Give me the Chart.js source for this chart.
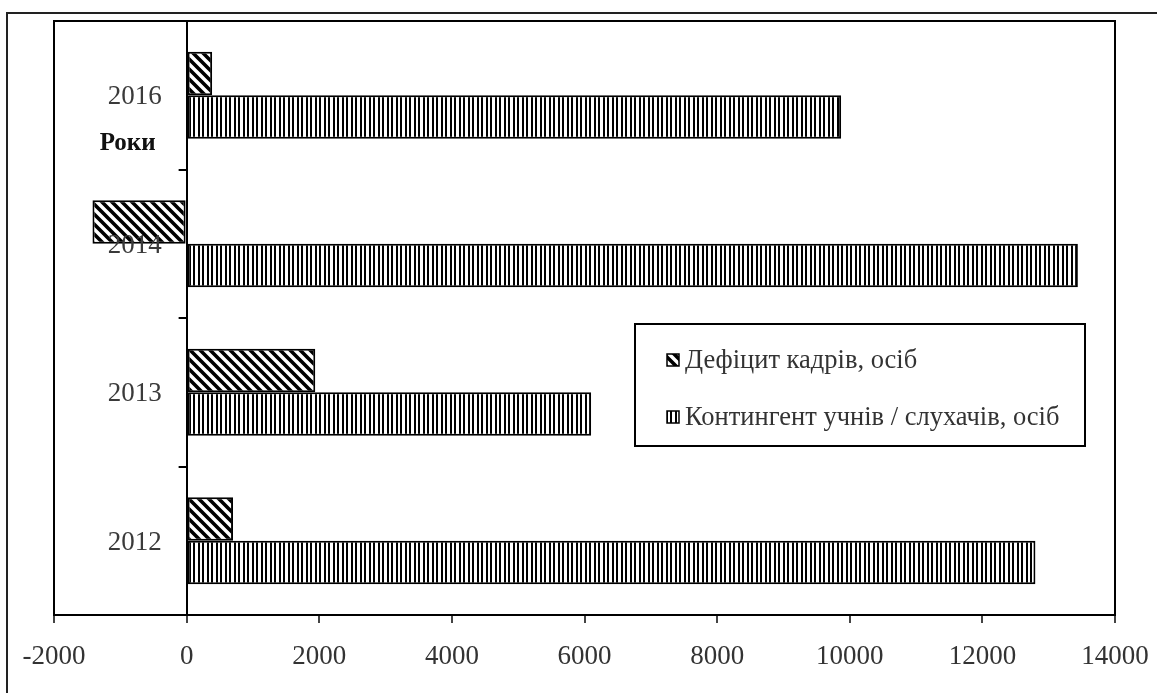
<!DOCTYPE html>
<html>
<head>
<meta charset="utf-8">
<script src="https://cdn.jsdelivr.net/npm/chart.js@4.4.1/dist/chart.umd.min.js"></script>
<style>
  html, body { margin: 0; padding: 0; background: #fff; }
  #wrap { width: 1157px; height: 693px; position: relative; }
</style>
</head>
<body>
<div id="wrap"><canvas id="c" width="1157" height="693"></canvas></div>
<script>
// Years shown from top to bottom
const years = ['2016', '2014', '2013', '2012'];
// Staff shortage, persons
const deficit = [385, -1420, 1940, 700];
// Number of pupils / trainees, persons
const contingent = [9870, 13440, 6100, 12800];
// Value axis
const xMin = -2000, xMax = 14000, xStep = 2000;
const seriesNames = ['Дефіцит кадрів, осіб', 'Контингент учнів / слухачів, осіб'];
const axisTitle = 'Роки';

const SERIF = "'Liberation Serif', 'Times New Roman', serif";

function diagonalPattern() {
  const s = 10;
  const c = document.createElement('canvas');
  c.width = s; c.height = s;
  const g = c.getContext('2d');
  g.fillStyle = '#fff';
  g.fillRect(0, 0, s, s);
  g.strokeStyle = '#000';
  g.lineWidth = 3.6;
  g.beginPath();
  g.moveTo(-s, -s); g.lineTo(2 * s, 2 * s);
  g.moveTo(-s, 0); g.lineTo(s, 2 * s);
  g.moveTo(0, -s); g.lineTo(2 * s, s);
  g.stroke();
  return g.createPattern(c, 'repeat');
}

function verticalPattern() {
  const c = document.createElement('canvas');
  c.width = 9; c.height = 9;
  const g = c.getContext('2d');
  g.fillStyle = '#fff';
  g.fillRect(0, 0, 9, 9);
  g.fillStyle = '#000';
  g.fillRect(0, 0, 2, 9);
  g.fillRect(4, 0, 2, 9);
  return g.createPattern(c, 'repeat');
}

const hatchDiag = diagonalPattern();
const hatchVert = verticalPattern();

// Frame, plot border, category labels, axis title and legend box
const decorations = {
  id: 'decorations',
  beforeDatasetsDraw(chart) {
    const { ctx, chartArea: a } = chart;
    ctx.save();
    ctx.strokeStyle = '#000';
    ctx.lineWidth = 2;
    ctx.beginPath();
    ctx.moveTo(a.left, a.bottom);
    ctx.lineTo(a.left, a.top);
    ctx.lineTo(a.right, a.top);
    ctx.lineTo(a.right, a.bottom);
    ctx.stroke();
    ctx.restore();
  },
  afterDraw(chart) {
    const { ctx, scales } = chart;
    const x0 = scales.x.getPixelForValue(0);
    const y = scales.y;
    ctx.save();

    // outer frame
    ctx.strokeStyle = '#222';
    ctx.lineWidth = 2;
    ctx.beginPath();
    ctx.moveTo(7, 700);
    ctx.lineTo(7, 13);
    ctx.lineTo(1170, 13);
    ctx.stroke();

    // category ticks on the zero line, between categories
    ctx.strokeStyle = '#000';
    ctx.lineWidth = 2;
    const band = (y.getPixelForValue(1) - y.getPixelForValue(0));
    ctx.beginPath();
    for (let i = 0; i < years.length - 1; i++) {
      const py = Math.round(y.getPixelForValue(i) + band / 2);
      ctx.moveTo(x0 - 8, py);
      ctx.lineTo(x0, py);
    }
    ctx.stroke();

    // category labels
    ctx.fillStyle = '#3a3a3a';
    ctx.font = '27px ' + SERIF;
    ctx.textAlign = 'right';
    ctx.textBaseline = 'middle';
    years.forEach((yr, i) => {
      ctx.fillText(yr, x0 - 25, y.getPixelForValue(i) + 2);
    });

    // axis title
    ctx.fillStyle = '#111';
    ctx.font = 'bold 25px ' + SERIF;
    ctx.textAlign = 'center';
    ctx.fillText(axisTitle, x0 - 59, y.getPixelForValue(0) + 48);

    // legend
    const lx = 635, ly = 324, lw = 450, lh = 122;
    ctx.fillStyle = '#fff';
    ctx.fillRect(lx, ly, lw, lh);
    ctx.strokeStyle = '#000';
    ctx.lineWidth = 2;
    ctx.strokeRect(lx, ly, lw, lh);
    const rows = [360, 417];
    chart.data.datasets.forEach((ds, i) => {
      const my = rows[i];
      ctx.fillStyle = ds.backgroundColor;
      ctx.fillRect(667, my - 6, 12, 12);
      ctx.strokeStyle = '#000';
      ctx.lineWidth = 1.5;
      ctx.strokeRect(667, my - 6, 12, 12);
      ctx.fillStyle = '#333';
      ctx.font = '26.5px ' + SERIF;
      ctx.textAlign = 'left';
      ctx.textBaseline = 'middle';
      ctx.fillText(ds.label, 685, my + 1);
    });
    ctx.restore();
  }
};

const edgeTicks = [xMin, 0, xMax];

new Chart(document.getElementById('c'), {
  type: 'bar',
  data: {
    labels: years,
    datasets: [
      {
        label: seriesNames[0],
        data: deficit,
        backgroundColor: hatchDiag,
        borderColor: '#000',
        borderWidth: 2,
        borderSkipped: false
      },
      {
        label: seriesNames[1],
        data: contingent,
        backgroundColor: hatchVert,
        borderColor: '#000',
        borderWidth: 2,
        borderSkipped: false
      }
    ]
  },
  options: {
    indexAxis: 'y',
    responsive: false,
    animation: false,
    devicePixelRatio: 1,
    datasets: { bar: { categoryPercentage: 0.586, barPercentage: 1.0 } },
    layout: { padding: { left: 54, top: 21, right: 42, bottom: 0 } },
    plugins: { legend: { display: false }, tooltip: { enabled: false } },
    scales: {
      y: {
        type: 'category',
        display: false,
        offset: true
      },
      x: {
        type: 'linear',
        min: xMin,
        max: xMax,
        afterFit: (s) => { s.height = 78; s.paddingLeft = 0; s.paddingRight = 0; },
        ticks: {
          stepSize: xStep,
          color: '#333',
          padding: 18,
          maxRotation: 0,
          font: { family: SERIF, size: 27 },
          callback: (v) => String(v)
        },
        grid: {
          color: (ctx) => (ctx.tick && edgeTicks.includes(ctx.tick.value)) ? '#000' : 'rgba(0,0,0,0)',
          lineWidth: 2,
          tickLength: 8,
          tickColor: '#444',
          tickWidth: 2
        },
        border: { display: true, color: '#000', width: 2 }
      }
    }
  },
  plugins: [decorations]
});
</script>
</body>
</html>
